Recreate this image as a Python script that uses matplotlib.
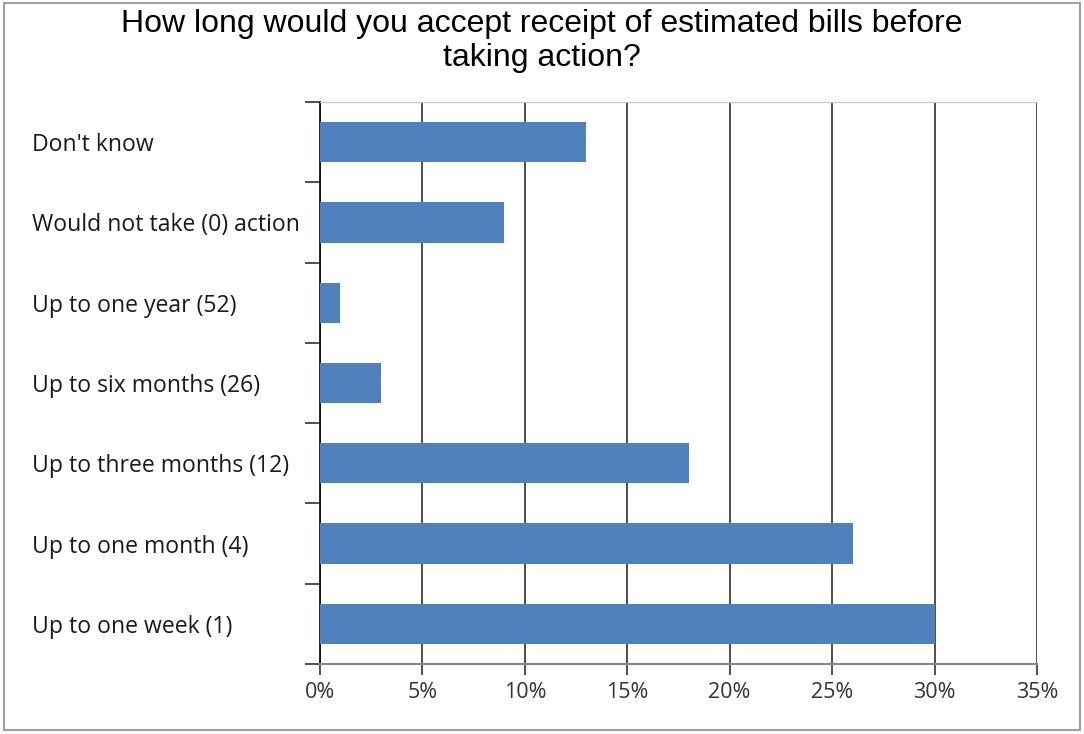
import numpy as np
import matplotlib.pyplot as plt
from matplotlib.patches import Rectangle

# --- Data ---
categories = ["Up to one week (1)", "Up to one month (4)", "Up to three months (12)",
              "Up to six months (26)", "Up to one year (52)",
              "Would not take (0) action", "Don't know"]
values = [30, 26, 18, 3, 1, 9, 13]
x_ticks = [0, 5, 10, 15, 20, 25, 30, 35]
x_labels = [f"{t}%" for t in x_ticks]

BAR_COLOR = "#4F81BD"
LABEL_FONT = ["Open Sans", "DejaVu Sans"]
DPI = 100

fig = plt.figure(figsize=(10.84, 7.34), dpi=DPI)
fig.patches.append(Rectangle((0.004, 0.006), 0.992, 0.99, transform=fig.transFigure,
                             fill=False, edgecolor="#a0a0a0", linewidth=1.5))

ax = fig.add_axes([0.2952, 0.0954, 0.6614, 0.7656])
y = np.arange(len(categories))
ax.barh(y, values, height=0.5, color=BAR_COLOR, zorder=3)

ax.set_xlim(0, 35)
ax.set_ylim(-0.5, len(categories) - 0.5)
ax.set_xticks(x_ticks)
ax.set_xticklabels(x_labels, fontsize=15.5, family=LABEL_FONT, color="#333333")
ax.set_yticks(y)
ax.set_yticklabels(categories, fontsize=16.6, family=LABEL_FONT, color="#1a1a1a",
                   ha="left", va="center_baseline")
# left-align labels at ~32px from the figure edge
ax.tick_params(axis="y", which="major", length=0, pad=(320 - 32) * 72 / DPI)
ax.set_yticks(np.arange(-0.5, len(categories)), minor=True)
ax.tick_params(axis="y", which="minor", length=11, width=1.2, color="#333333")
ax.tick_params(axis="x", length=8, width=1.2, color="#333333", pad=5)

ax.grid(axis="x", color="#404040", linewidth=1.3, zorder=1)
ax.spines["right"].set_visible(False)
ax.spines["top"].set_color("#c8c8c8")
ax.spines["bottom"].set_color("#888888")
ax.spines["bottom"].set_linewidth(1.5)
ax.spines["left"].set_color("#111111")
ax.spines["left"].set_linewidth(1.3)

fig.text(0.5, 0.988, "How long would you accept receipt of estimated bills before\ntaking action?",
         ha="center", va="top", fontsize=23, family=["Liberation Sans", "DejaVu Sans"],
         linespacing=1.2)

fig.savefig("out.png", dpi=DPI)
